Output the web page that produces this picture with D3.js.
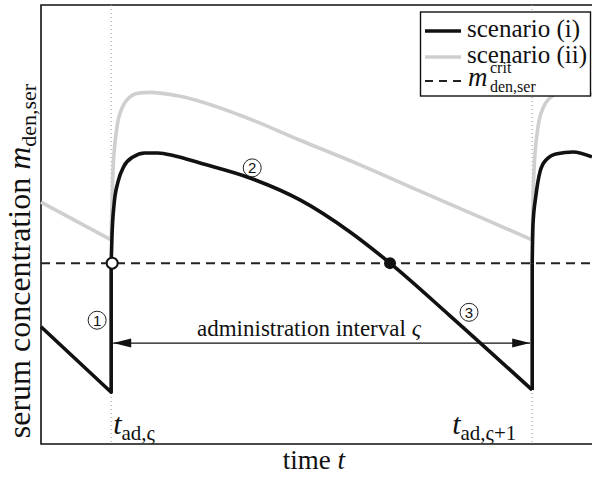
<!DOCTYPE html>
<html>
<head>
<meta charset="utf-8">
<script src="https://cdn.jsdelivr.net/npm/d3@7"></script>
<style>
  body { margin: 0; background: #fff; }
</style>
</head>
<body>
<svg id="chart" width="592" height="477" font-family="'Liberation Serif', 'Times New Roman', Times, 'DejaVu Serif', serif"></svg>
<script>
// administration times (time units)
var tAd = [1, 7];
var critLevel = 4.12;

// scenario (i): decay before first dose, rise + decay in interval, rise after second dose
var s1Pre   = [[0, 2.67], [1, 1.18], [1, 4.12]];
var s1Mid   = [[1, 4.12], [1.012, 4.76], [1.04, 5.44], [1.097, 5.97], [1.183, 6.33], [1.311, 6.54],
               [1.482, 6.63], [1.667, 6.63], [1.91, 6.56], [2.266, 6.4], [2.978, 6.06], [3.691, 5.56],
               [4.404, 4.83], [4.974, 4.12], [5.829, 2.92], [7, 1.23]];
var s1Jump  = [[7, 1.23], [7, 4.12]];
var s1Post  = [[7, 4.12], [7.011, 4.99], [7.054, 5.67], [7.111, 6.2], [7.197, 6.47], [7.354, 6.61],
               [7.582, 6.65], [7.852, 6.54]];

// scenario (ii)
var s2Pre   = [[0, 5.51], [1, 4.65]];
var s2Mid   = [[1, 4.65], [1.012, 5.44], [1.026, 6.24], [1.083, 7.22], [1.154, 7.65], [1.226, 7.84],
               [1.382, 7.99], [1.553, 8.01], [1.981, 7.92], [2.836, 7.49], [3.691, 6.92], [4.546, 6.36],
               [5.401, 5.76], [6.256, 5.17], [7, 4.65]];
var s2Post  = [[7, 4.65], [7.011, 5.44], [7.026, 6.24], [7.083, 7.22], [7.154, 7.65], [7.226, 7.84],
               [7.382, 7.99], [7.553, 8.01], [7.852, 7.97]];

// markers: open circle where (i) crosses up, filled where it falls below
var crossUp   = [1, critLevel];
var crossDown = [4.974, critLevel];
var phases = [{ n: "1", t: 0.8, v: 2.82 }, { n: "2", t: 3.01, v: 6.29 }, { n: "3", t: 6.1, v: 3.0 }];
var arrowLevel = 2.3;

var svg = d3.select("#chart");
var mLeft = 41, mTop = 5, mBottom = 444;
var x = d3.scaleLinear().domain([0, 8]).range([mLeft, mLeft + 8 * 70.17]);
var y = d3.scaleLinear().domain([0, 10]).range([mBottom, mTop]);

// frame (right side lies outside the picture)
svg.append("path")
   .attr("d", "M" + (x(8) + 10) + "," + mTop + "H" + mLeft + "V" + mBottom + "H" + (x(8) + 10))
   .attr("fill", "none").attr("stroke", "#111").attr("stroke-width", 1.6);

// dotted administration lines
svg.selectAll(".vad").data(tAd).enter().append("line")
   .attr("x1", d => x(d)).attr("x2", d => x(d)).attr("y1", mTop).attr("y2", mBottom)
   .attr("stroke", "#999").attr("stroke-width", 1).attr("stroke-dasharray", "1,3");

var lin = d3.line().x(d => x(d[0])).y(d => y(d[1]));
var smooth = d3.line().x(d => x(d[0])).y(d => y(d[1])).curve(d3.curveMonotoneX);

// scenario (ii) gray
[[s2Pre, lin], [s2Mid, smooth], [s2Post, smooth]].forEach(function(p) {
  svg.append("path").attr("d", p[1](p[0])).attr("fill", "none")
     .attr("stroke", "#cfcfcf").attr("stroke-width", 3.6).attr("stroke-linejoin", "round");
});

// critical level
svg.append("line").attr("x1", mLeft).attr("x2", 592).attr("y1", y(critLevel)).attr("y2", y(critLevel))
   .attr("stroke", "#222").attr("stroke-width", 2).attr("stroke-dasharray", "9,6");

// scenario (i) black
[[s1Pre, lin], [s1Mid, smooth], [s1Jump, lin], [s1Post, smooth]].forEach(function(p) {
  svg.append("path").attr("d", p[1](p[0])).attr("fill", "none")
     .attr("stroke", "#111").attr("stroke-width", 3.6).attr("stroke-linejoin", "round");
});

// interval arrow
var ax0 = x(tAd[0]) + 2, ax1 = x(tAd[1]) - 2, ay = y(arrowLevel);
svg.append("line").attr("x1", ax0).attr("x2", ax1).attr("y1", ay).attr("y2", ay)
   .attr("stroke", "#111").attr("stroke-width", 1.2);
svg.append("path").attr("d", "M" + ax0 + "," + ay + "l18,-4.5v9z").attr("fill", "#111");
svg.append("path").attr("d", "M" + ax1 + "," + ay + "l-18,-4.5v9z").attr("fill", "#111");
var it = svg.append("text").attr("x", 309).attr("y", ay - 7).attr("text-anchor", "middle")
   .attr("fill", "#111").style("font-size", "23px");
it.append("tspan").text("administration interval ");
it.append("tspan").style("font-style", "italic").text("ς");

// crossing markers
svg.append("circle").attr("cx", x(crossUp[0]) + 1).attr("cy", y(crossUp[1])).attr("r", 5.5)
   .attr("fill", "#fff").attr("stroke", "#111").attr("stroke-width", 2);
svg.append("circle").attr("cx", x(crossDown[0])).attr("cy", y(crossDown[1])).attr("r", 6)
   .attr("fill", "#111");

// circled phase numbers
var ph = svg.selectAll(".ph").data(phases).enter().append("g")
   .attr("transform", d => "translate(" + x(d.t) + "," + y(d.v) + ")");
ph.append("circle").attr("r", 9).attr("fill", "none").attr("stroke", "#222").attr("stroke-width", 1);
ph.append("text").attr("text-anchor", "middle").attr("y", 5.5).attr("fill", "#111")
  .attr("font-family", "'Liberation Sans', Arial, sans-serif").style("font-size", "15px")
  .text(d => d.n);

// time tick labels
var tickSubs = ["ad,ς", "ad,ς+1"];
var tickX = [x(tAd[0]) + 2, x(tAd[1]) - 80];
tickSubs.forEach(function(s, i) {
  var t = svg.append("text").attr("x", tickX[i]).attr("y", 434).attr("fill", "#111").style("font-size", "30px");
  t.append("tspan").style("font-style", "italic").text("t");
  t.append("tspan").attr("dy", 6).style("font-size", "21px").text(s);
});

// axis labels
var xl = svg.append("text").attr("x", 314).attr("y", 469).attr("text-anchor", "middle")
   .attr("fill", "#111").style("font-size", "27px");
xl.append("tspan").text("time ");
xl.append("tspan").style("font-style", "italic").text("t");

var yl = svg.append("text").attr("transform", "translate(30,261) rotate(-90)")
   .attr("text-anchor", "middle").attr("fill", "#111").style("font-size", "32px");
yl.append("tspan").text("serum concentration ");
yl.append("tspan").style("font-style", "italic").text("m");
yl.append("tspan").attr("dy", 6).style("font-size", "22px").text("den,ser");

// legend
var lg = svg.append("g");
lg.append("rect").attr("x", 420.5).attr("y", 12).attr("width", 170).attr("height", 84)
  .attr("fill", "#fff").attr("stroke", "#111").attr("stroke-width", 1.4);
var legItems = [
  { y: 31, stroke: "#111", dash: null, w: 3.6, label: "scenario (i)" },
  { y: 57, stroke: "#cfcfcf", dash: null, w: 3.6, label: "scenario (ii)" },
  { y: 81, stroke: "#222", dash: "8,6", w: 2, label: null }
];
legItems.forEach(function(d) {
  lg.append("line").attr("x1", 425).attr("x2", 461).attr("y1", d.y).attr("y2", d.y)
    .attr("stroke", d.stroke).attr("stroke-width", d.w).attr("stroke-dasharray", d.dash);
  if (d.label) lg.append("text").attr("x", 467).attr("y", d.y + 6).attr("fill", "#111")
    .style("font-size", "25px").text(d.label);
});
lg.append("text").attr("x", 468).attr("y", 86).attr("fill", "#111").style("font-size", "27px")
  .style("font-style", "italic").text("m");
lg.append("text").attr("x", 490).attr("y", 73).attr("fill", "#111").style("font-size", "16px").text("crit");
lg.append("text").attr("x", 490).attr("y", 92).attr("fill", "#111").style("font-size", "16px").text("den,ser");
</script>
</body>
</html>
